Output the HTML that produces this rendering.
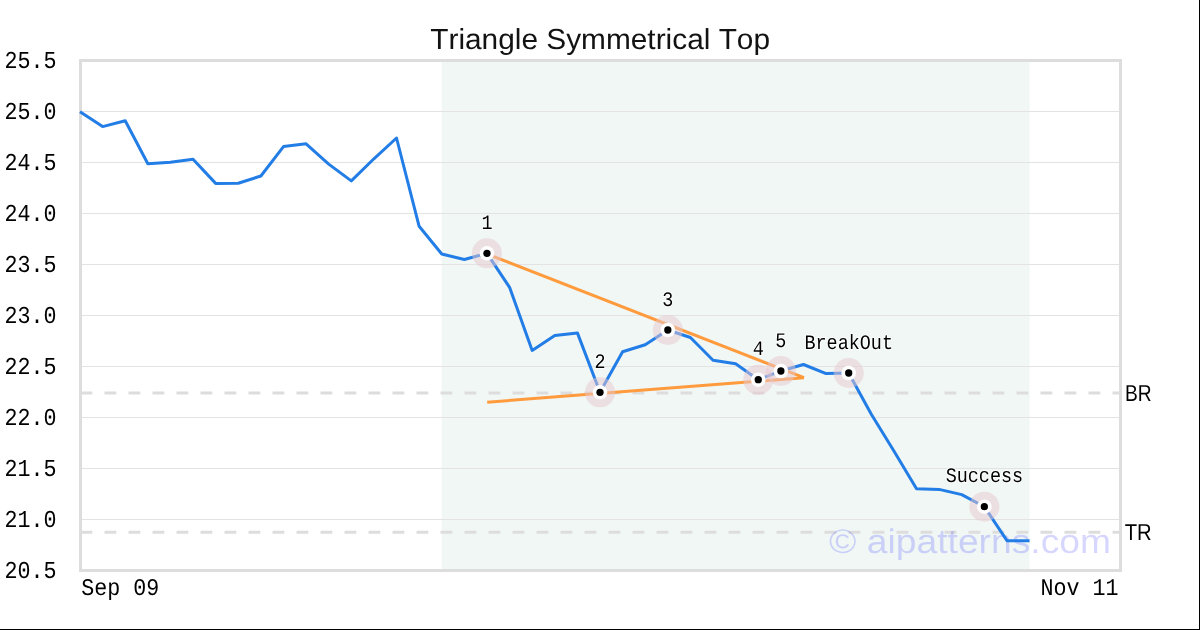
<!DOCTYPE html>
<html><head><meta charset="utf-8"><style>
html,body{margin:0;padding:0;background:#fff;width:1200px;height:630px;overflow:hidden;}
svg{display:block;will-change:transform;}
text{text-rendering:geometricPrecision;font-kerning:none;}
</style></head><body>
<svg width="1200" height="630" viewBox="0 0 1200 630">
<rect x="0" y="0" width="1200" height="630" fill="#fff"/>
<rect x="441.74" y="62" width="587.83" height="507" fill="#f0f7f5"/>
<line x1="82" y1="111.5" x2="1119" y2="111.5" stroke="#e3e3e3" stroke-width="1"/>
<line x1="82" y1="162.5" x2="1119" y2="162.5" stroke="#e3e3e3" stroke-width="1"/>
<line x1="82" y1="213.5" x2="1119" y2="213.5" stroke="#e3e3e3" stroke-width="1"/>
<line x1="82" y1="264.5" x2="1119" y2="264.5" stroke="#e3e3e3" stroke-width="1"/>
<line x1="82" y1="315.5" x2="1119" y2="315.5" stroke="#e3e3e3" stroke-width="1"/>
<line x1="82" y1="366.5" x2="1119" y2="366.5" stroke="#e3e3e3" stroke-width="1"/>
<line x1="82" y1="417.5" x2="1119" y2="417.5" stroke="#e3e3e3" stroke-width="1"/>
<line x1="82" y1="468.5" x2="1119" y2="468.5" stroke="#e3e3e3" stroke-width="1"/>
<line x1="82" y1="519.5" x2="1119" y2="519.5" stroke="#e3e3e3" stroke-width="1"/>
<line x1="80.5" y1="393.0" x2="1120.5" y2="393.0" stroke="#dddddd" stroke-width="3" stroke-dasharray="11.8 12.2"/>
<line x1="80.5" y1="532.2" x2="1120.5" y2="532.2" stroke="#dddddd" stroke-width="3" stroke-dasharray="11.8 12.2"/>
<rect x="80.5" y="60.5" width="1040" height="510" fill="none" stroke="#dddddd" stroke-width="3"/>
<text transform="translate(829.04,553.00) scale(1,0.9131)" x="0" y="0" font-family="Liberation Sans" font-size="37.245" fill="rgba(0,0,255,0.16)" >© aipatterns.com</text>
<polyline points="80.00,111.70 102.61,126.60 125.22,120.80 147.83,163.70 170.43,162.20 193.04,159.30 215.65,183.40 238.26,183.20 260.87,176.00 283.48,146.60 306.09,143.80 328.70,164.10 351.30,180.90 373.91,158.80 396.52,138.00 419.13,226.30 441.74,254.00 464.35,259.50 486.96,253.30 509.57,287.30 532.17,350.40 554.78,335.60 577.39,332.90 600.00,392.30 622.61,351.70 645.22,344.70 667.83,330.00 690.43,337.50 713.04,360.20 735.65,363.80 758.26,379.70 780.87,371.00 803.48,364.50 826.09,373.60 848.70,373.00 871.30,414.20 893.91,451.00 916.52,488.70 939.13,489.40 961.74,494.60 984.35,506.70 1006.96,540.70 1029.57,540.70" fill="none" stroke="#227de6" stroke-width="3" stroke-linejoin="round"/>
<line x1="487.0" y1="254.0" x2="804.0" y2="377.7" stroke="#ff9a3d" stroke-width="3"/>
<line x1="487.2" y1="402.2" x2="804.0" y2="377.7" stroke="#ff9a3d" stroke-width="3"/>
<circle cx="486.96" cy="253.30" r="15" fill="rgba(232,200,208,0.5)"/>
<circle cx="486.96" cy="253.30" r="7.3" fill="#fff"/>
<circle cx="486.96" cy="253.30" r="3.65" fill="#000"/>
<text transform="translate(486.96,228.80) scale(1,1.1200)" x="0" y="0" text-anchor="middle" font-family="Liberation Mono" font-size="18.450" fill="#000" stroke="#fff" stroke-width="1.6" paint-order="stroke">1</text>
<circle cx="600.00" cy="392.30" r="15" fill="rgba(232,200,208,0.5)"/>
<circle cx="600.00" cy="392.30" r="7.3" fill="#fff"/>
<circle cx="600.00" cy="392.30" r="3.65" fill="#000"/>
<text transform="translate(600.00,367.80) scale(1,1.1200)" x="0" y="0" text-anchor="middle" font-family="Liberation Mono" font-size="18.450" fill="#000" stroke="#fff" stroke-width="1.6" paint-order="stroke">2</text>
<circle cx="667.83" cy="330.00" r="15" fill="rgba(232,200,208,0.5)"/>
<circle cx="667.83" cy="330.00" r="7.3" fill="#fff"/>
<circle cx="667.83" cy="330.00" r="3.65" fill="#000"/>
<text transform="translate(667.83,305.50) scale(1,1.1200)" x="0" y="0" text-anchor="middle" font-family="Liberation Mono" font-size="18.450" fill="#000" stroke="#fff" stroke-width="1.6" paint-order="stroke">3</text>
<circle cx="758.26" cy="379.70" r="15" fill="rgba(232,200,208,0.5)"/>
<circle cx="758.26" cy="379.70" r="7.3" fill="#fff"/>
<circle cx="758.26" cy="379.70" r="3.65" fill="#000"/>
<text transform="translate(758.26,355.20) scale(1,1.1200)" x="0" y="0" text-anchor="middle" font-family="Liberation Mono" font-size="18.450" fill="#000" stroke="#fff" stroke-width="1.6" paint-order="stroke">4</text>
<circle cx="780.87" cy="371.00" r="15" fill="rgba(232,200,208,0.5)"/>
<circle cx="780.87" cy="371.00" r="7.3" fill="#fff"/>
<circle cx="780.87" cy="371.00" r="3.65" fill="#000"/>
<text transform="translate(780.87,346.50) scale(1,1.1200)" x="0" y="0" text-anchor="middle" font-family="Liberation Mono" font-size="18.450" fill="#000" stroke="#fff" stroke-width="1.6" paint-order="stroke">5</text>
<circle cx="848.70" cy="373.00" r="15" fill="rgba(232,200,208,0.5)"/>
<circle cx="848.70" cy="373.00" r="7.3" fill="#fff"/>
<circle cx="848.70" cy="373.00" r="3.65" fill="#000"/>
<text transform="translate(848.70,348.50) scale(1,1.1200)" x="0" y="0" text-anchor="middle" font-family="Liberation Mono" font-size="18.450" fill="#000" stroke="#fff" stroke-width="1.6" paint-order="stroke">BreakOut</text>
<circle cx="984.35" cy="506.70" r="15" fill="rgba(232,200,208,0.5)"/>
<circle cx="984.35" cy="506.70" r="7.3" fill="#fff"/>
<circle cx="984.35" cy="506.70" r="3.65" fill="#000"/>
<text transform="translate(984.35,482.20) scale(1,1.1200)" x="0" y="0" text-anchor="middle" font-family="Liberation Mono" font-size="18.450" fill="#000" stroke="#fff" stroke-width="1.6" paint-order="stroke">Success</text>
<text transform="translate(4.58,67.95) scale(1,1.1168)" x="0" y="0" font-family="Liberation Mono" font-size="21.684" fill="#000" >25.5</text>
<text transform="translate(4.58,118.95) scale(1,1.1178)" x="0" y="0" font-family="Liberation Mono" font-size="21.666" fill="#000" >25.0</text>
<text transform="translate(4.58,169.95) scale(1,1.1168)" x="0" y="0" font-family="Liberation Mono" font-size="21.684" fill="#000" >24.5</text>
<text transform="translate(4.58,220.95) scale(1,1.1178)" x="0" y="0" font-family="Liberation Mono" font-size="21.666" fill="#000" >24.0</text>
<text transform="translate(4.58,271.95) scale(1,1.1168)" x="0" y="0" font-family="Liberation Mono" font-size="21.684" fill="#000" >23.5</text>
<text transform="translate(4.58,322.95) scale(1,1.1178)" x="0" y="0" font-family="Liberation Mono" font-size="21.666" fill="#000" >23.0</text>
<text transform="translate(4.58,373.95) scale(1,1.1168)" x="0" y="0" font-family="Liberation Mono" font-size="21.684" fill="#000" >22.5</text>
<text transform="translate(4.58,424.95) scale(1,1.1178)" x="0" y="0" font-family="Liberation Mono" font-size="21.666" fill="#000" >22.0</text>
<text transform="translate(4.58,475.95) scale(1,1.1168)" x="0" y="0" font-family="Liberation Mono" font-size="21.684" fill="#000" >21.5</text>
<text transform="translate(4.58,526.95) scale(1,1.1178)" x="0" y="0" font-family="Liberation Mono" font-size="21.666" fill="#000" >21.0</text>
<text transform="translate(4.58,577.95) scale(1,1.1168)" x="0" y="0" font-family="Liberation Mono" font-size="21.684" fill="#000" >20.5</text>
<text transform="translate(81.22,594.85) scale(1,1.0995)" x="0" y="0" font-family="Liberation Mono" font-size="21.685" fill="#000" >Sep 09</text>
<text transform="translate(1040.38,594.80) scale(1,1.1049)" x="0" y="0" font-family="Liberation Mono" font-size="21.709" fill="#000" >Nov 11</text>
<text transform="translate(1124.98,400.83) scale(1,1.2017)" x="0" y="0" font-family="Liberation Sans" font-size="19.195" fill="#000" >BR</text>
<text transform="translate(1124.71,539.84) scale(1,1.1395)" x="0" y="0" font-family="Liberation Sans" font-size="20.243" fill="#000" >TR</text>
<text transform="translate(430.23,48.80) scale(1,0.9695)" x="0" y="0" font-family="Liberation Sans" font-size="29.834" fill="#121212" >Triangle Symmetrical Top</text>
<rect x="1199" y="0" width="1" height="630" fill="#000"/>
<rect x="0" y="629" width="1200" height="1" fill="#000"/>
</svg>
</body></html>
